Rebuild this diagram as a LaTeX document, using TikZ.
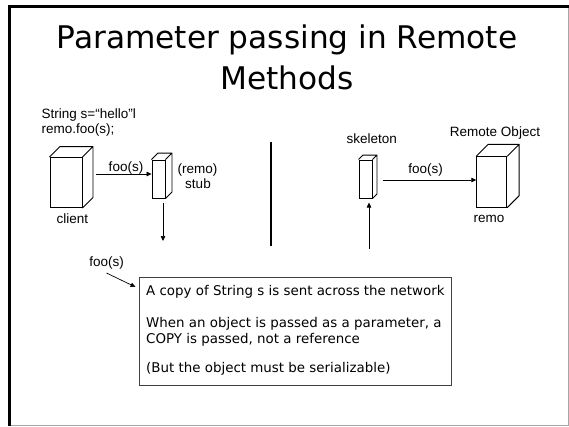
\documentclass[tikz,border=0pt]{standalone}
\usepackage{fontspec}
\setmainfont{Liberation Sans}
\newfontfamily\slidefont{DejaVu Sans}
\usetikzlibrary{arrows.meta,calc}

\tikzset{
  label/.style={inner sep=0pt, anchor=base, font=\fontsize{13.5}{16}\selectfont},
  titletext/.style={inner sep=0pt, anchor=base, font=\slidefont\fontsize{31.2}{36}\selectfont},
  bodytext/.style={inner sep=0pt, anchor=base west, font=\slidefont\fontsize{13.4}{16}\selectfont},
  front/.style={draw, line width=0.9pt, inner sep=0pt, fill=white},
  cube/.style={draw, line width=0.9pt, line join=round},
  flow/.style={draw, line width=0.7pt, -{Triangle[length=5pt,width=4.5pt]}},
}

% depth edges of a cuboid drawn behind its front face
\newcommand{\cubedepth}[2]{%
  \draw[cube] (#1.north west) -- ++(#2,-#2) -- ([shift={(#2,-#2)}]#1.north east)
    -- ([shift={(#2,-#2)}]#1.south east) -- (#1.south east)
    (#1.north east) -- ++(#2,-#2);}

\begin{document}
\begin{tikzpicture}[x=1pt,y=-1pt]
\useasboundingbox (0,0) rectangle (569,426);
\fill[white] (0,0) rectangle (569,426);

% slide frame
\draw[gray!70, line width=1pt] (568.5,6) -- (568.5,425.5) -- (9,425.5);
\draw[black, line width=3pt] (9.5,426) -- (9.5,6.5) -- (569,6.5);

% title
\node[titletext] (t1) at (287,48) {Parameter passing in Remote};
\node[titletext] (t2) at (287,89) {Methods};

% code snippet
\node[label, anchor=base west] (code1) at (41.5,118) {String s=“hello”l};
\node[label, anchor=base west] (code2) at (41.5,133) {remo.foo(s);};

% client
\node[front, minimum width=32pt, minimum height=50pt] (client) at (66,182.5) {};
\cubedepth{client}{10.5}
\node[label] (clientlbl) at (72.5,223) {client};

% stub
\node[front, minimum width=13pt, minimum height=38pt] (stub) at (158.5,179) {};
\cubedepth{stub}{6.5}
\node[label] (stublbl1) at (197.5,173) {(remo)};
\node[label] (stublbl2) at (198,188) {stub};

% call from client to stub
\coordinate (c1) at (96,174);
\draw[flow] (c1) -- (c1 -| stub.west);
\node[label] (foo1) at (126,171.5) {foo(s)};

% from stub down to the network
\coordinate (sd1) at (163,203);
\coordinate (sd2) at (163,241);
\draw[flow] (sd1) -- (sd2);

% divider between client and server side
\coordinate (dv1) at (270.7,141.5);
\coordinate (dv2) at (270.7,246);
\draw[line width=2pt] (dv1) -- (dv2);

% skeleton
\node[front, minimum width=13pt, minimum height=38pt] (skel) at (365.5,179) {};
\cubedepth{skel}{4.5}
\node[label] (skellbl) at (371.7,143.3) {skeleton};

% remote object
\node[front, minimum width=30pt, minimum height=50.5pt] (remo) at (491.7,182) {};
\cubedepth{remo}{12}
\node[label] (remolbl1) at (495,136.7) {Remote Object};
\node[label] (remolbl2) at (489,222.7) {remo};

% call from skeleton to remote object
\coordinate (c2) at (382.7,180);
\draw[flow] (c2) -- (c2 -| remo.west);
\node[label] (foo2) at (425.5,173.3) {foo(s)};

% from the network up to skeleton
\coordinate (su1) at (369,248.5);
\coordinate (su2) at (369,202.5);
\draw[flow] (su1) -- (su2);

% explanation box
\node[draw=black!75, line width=0.9pt, minimum width=312pt, minimum height=108pt, inner sep=0pt] (note) at (295,331) {};
\node[bodytext] (n1) at (146,295) {A copy of String s is sent across the network};
\node[bodytext] (n2) at (146,327) {When an object is passed as a parameter, a};
\node[bodytext] (n3) at (146,343) {COPY is passed, not a reference};
\node[bodytext] (n4) at (146,372) {(But the object must be serializable)};

% message label pointing at the box
\node[label] (foo3) at (106.7,266.7) {foo(s)};
\coordinate (fa1) at (106.5,273);
\coordinate (fa2) at (135.5,287);
\draw[flow] (fa1) -- (fa2);
\end{tikzpicture}
\end{document}
